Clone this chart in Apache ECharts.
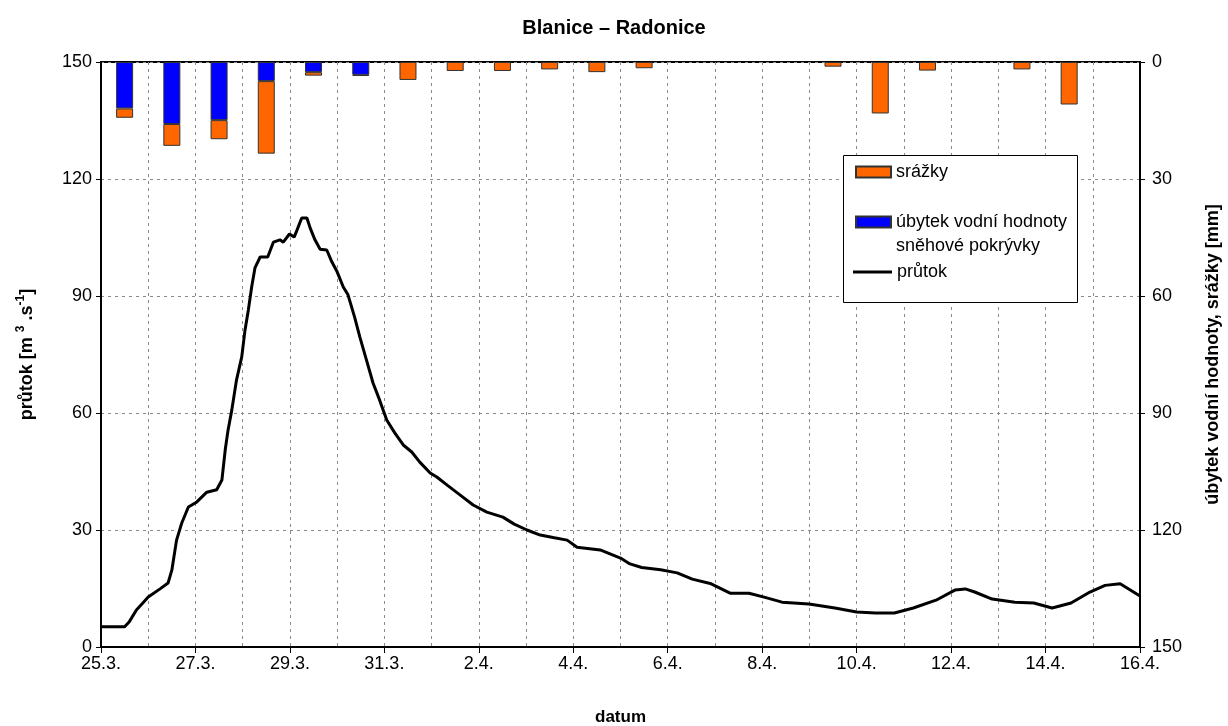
<!DOCTYPE html>
<html>
<head>
<meta charset="utf-8">
<script src="https://cdn.jsdelivr.net/npm/echarts@6/dist/echarts.min.js"></script>
<style>
html,body{margin:0;padding:0;background:#fff;}
#chart{width:1228px;height:726px;}
</style>
</head>
<body>
<div id="chart"></div>
<script>
// Days (categories for the bars): 25.3. ... 15.4.
var dayLabels = ['25.3.','26.3.','27.3.','28.3.','29.3.','30.3.','31.3.','1.4.','2.4.','3.4.','4.4.','5.4.','6.4.','7.4.','8.4.','9.4.','10.4.','11.4.','12.4.','13.4.','14.4.','15.4.'];
// X tick labels every 2 days
var xTickLabels = ['25.3.','27.3.','29.3.','31.3.','2.4.','4.4.','6.4.','8.4.','10.4.','12.4.','14.4.','16.4.'];
// Daily snow water equivalent decrease [mm]
var snowLoss = [11.9, 15.9, 14.9, 4.9, 2.6, 3.3, null, null, null, null, null, null, null, null, null, null, null, null, null, null, null, null];
// Daily precipitation [mm]
var precip = [2.4, 5.6, 4.9, 18.6, 0.9, 0.3, 4.6, 2.3, 2.3, 1.9, 2.6, 1.6, null, null, null, 1.2, 13.2, 2.2, null, 1.9, 10.9, null];
// Discharge: time in days since 25.3. 0:00 and flow [m3/s]
var flowT = [0,0.5,0.6,0.75,0.9,1.0,1.25,1.42,1.5,1.6,1.71,1.85,2.03,2.24,2.45,2.56,2.63,2.69,2.77,2.87,2.98,3.05,3.12,3.19,3.26,3.37,3.53,3.65,3.79,3.86,3.99,4.09,4.15,4.25,4.36,4.43,4.53,4.64,4.78,4.89,5.0,5.13,5.23,5.37,5.48,5.62,5.76,5.9,6.05,6.22,6.4,6.58,6.75,6.97,7.11,7.33,7.6,7.88,8.17,8.51,8.75,9.02,9.3,9.6,9.87,10.08,10.57,11.0,11.2,11.45,11.85,12.2,12.52,12.92,13.32,13.72,14.04,14.42,14.99,15.54,16.0,16.4,16.8,17.2,17.68,18.08,18.3,18.5,18.87,19.35,19.75,20.14,20.54,20.94,21.26,21.58,22];
var flowQ = [5.2,5.2,6.5,9.5,11.5,12.8,14.9,16.4,19.7,27.4,31.8,35.9,37.2,39.7,40.3,42.8,50.5,55.6,60.8,68.5,74.4,81.3,86.4,92.3,97.2,100,100,103.8,104.4,103.8,105.9,105.1,106.9,110,110,107.4,104.4,102,101.8,98.7,96.2,92.3,90.3,84.6,79.5,73.6,67.7,63.3,58.2,54.9,51.8,50,47.4,44.6,43.6,41.5,39,36.4,34.6,33.3,31.5,30,28.7,28,27.4,25.6,24.9,22.8,21.3,20.4,19.8,19,17.4,16.2,13.8,13.8,12.8,11.5,11,10,9,8.7,8.7,10,12,14.6,14.9,14.1,12.3,11.5,11.3,10,11.3,14.1,15.8,16.2,13.1];

var FONT = "'Liberation Sans', Arial, sans-serif";
var flowData = flowT.map(function (t, i) { return [t, flowQ[i]]; });
var gridDash = { color: '#8a8a8a', width: 1, type: [3, 4] };
var SNOW = 'úbytek vodní hodnoty\nsněhové pokrývky';

var chart = echarts.init(document.getElementById('chart'), null, { renderer: 'canvas' });
chart.setOption({
  animation: false,
  backgroundColor: '#ffffff',
  textStyle: { fontFamily: FONT, color: '#000' },
  title: {
    text: 'Blanice – Radonice',
    left: 'center', top: 13,
    textStyle: { fontFamily: FONT, fontSize: 20, fontWeight: 'bold', color: '#000' }
  },
  grid: { left: 101, right: 88, top: 62, bottom: 79, containLabel: false, outerBoundsMode: 'none',
    show: true, borderColor: '#000', borderWidth: 2, backgroundColor: 'transparent' },
  xAxis: [{
    type: 'value', min: 0, max: 22, interval: 2,
    name: 'datum', nameLocation: 'middle', nameGap: 62,
    nameTextStyle: { fontFamily: FONT, fontSize: 17, fontWeight: 'bold', color: '#000' },
    axisLine: { show: true, lineStyle: { color: '#000', width: 2 } },
    axisTick: { show: true, length: 6, lineStyle: { color: '#000', width: 1 } },
    axisLabel: { fontFamily: FONT, fontSize: 18, color: '#000', margin: 8,
      formatter: function (v) { return xTickLabels[Math.round(v / 2)]; } },
    splitLine: { show: true, lineStyle: gridDash },
    minorTick: { show: false, splitNumber: 2 },
    minorSplitLine: { show: true, lineStyle: gridDash }
  }, {
    type: 'category', data: dayLabels, boundaryGap: true, show: false
  }],
  yAxis: [{
    type: 'value', min: 0, max: 150, interval: 30, position: 'left',
    name: 'průtok [m {sup|3} .s{sup|-1}]', nameLocation: 'middle', nameGap: 62, nameRotate: 90,
    nameTextStyle: { fontFamily: FONT, fontSize: 18, fontWeight: 'bold', color: '#000',
      rich: { sup: { fontFamily: FONT, fontSize: 12, fontWeight: 'bold', color: '#000', verticalAlign: 'top', lineHeight: 24 } } },
    axisLine: { show: true, lineStyle: { color: '#000', width: 2 } },
    axisTick: { show: true, length: 5, lineStyle: { color: '#000' } },
    axisLabel: { fontFamily: FONT, fontSize: 18, color: '#000', margin: 9 },
    splitLine: { show: true, lineStyle: gridDash }
  }, {
    type: 'value', min: 0, max: 150, interval: 30, position: 'right', inverse: true,
    name: 'úbytek vodní hodnoty, srážky [mm]', nameLocation: 'middle', nameGap: 64, nameRotate: 90,
    nameTextStyle: { fontFamily: FONT, fontSize: 18, fontWeight: 'bold', color: '#000' },
    axisLine: { show: true, lineStyle: { color: '#000', width: 2 } },
    axisTick: { show: true, length: 5, lineStyle: { color: '#000' } },
    axisLabel: { fontFamily: FONT, fontSize: 18, color: '#000', margin: 12 },
    splitLine: { show: false }
  }],
  graphic: [{
    type: 'rect', z: 3, left: 843, top: 155,
    shape: { width: 234, height: 147 },
    style: { fill: '#fff', stroke: '#000', lineWidth: 1 }
  }],
  legend: [{
    data: [{ name: 'srážky', icon: 'rect' }], left: 855, top: 162, padding: 0, orient: 'vertical', z: 5,
    itemWidth: 35, itemHeight: 11, itemGap: 0, selectedMode: false,
    textStyle: { fontFamily: FONT, fontSize: 18, color: '#000', lineHeight: 20 }
  }, {
    data: [{ name: SNOW, icon: 'rect' }], left: 855, top: 186, padding: 0, orient: 'vertical', z: 5,
    itemWidth: 35, itemHeight: 11, itemGap: 0, selectedMode: false,
    formatter: function (name) { return ' \n' + name; },
    textStyle: { fontFamily: FONT, fontSize: 18, color: '#000', lineHeight: 24 }
  }, {
    data: [{ name: 'průtok', icon: 'rect' }], left: 853, top: 262, padding: 0, orient: 'vertical', z: 5,
    itemWidth: 39, itemHeight: 3, itemGap: 0, selectedMode: false,
    itemStyle: { color: '#000', borderWidth: 0 },
    textStyle: { fontFamily: FONT, fontSize: 18, color: '#000', lineHeight: 20 }
  }],
  series: [{
    name: SNOW, type: 'bar', xAxisIndex: 1, yAxisIndex: 1,
    stack: 'daily', data: snowLoss, barWidth: 17,
    itemStyle: { color: '#0000ff', borderColor: '#333', borderWidth: 1 }
  }, {
    name: 'srážky', type: 'bar', xAxisIndex: 1, yAxisIndex: 1,
    stack: 'daily', data: precip, barWidth: 17,
    itemStyle: { color: '#ff6600', borderColor: '#333', borderWidth: 1 }
  }, {
    name: 'průtok', type: 'line', xAxisIndex: 0, yAxisIndex: 0,
    data: flowData, showSymbol: false, symbol: 'none', z: 4,
    lineStyle: { color: '#000', width: 3 }, itemStyle: { color: '#000' }
  }]
});
</script>
</body>
</html>
